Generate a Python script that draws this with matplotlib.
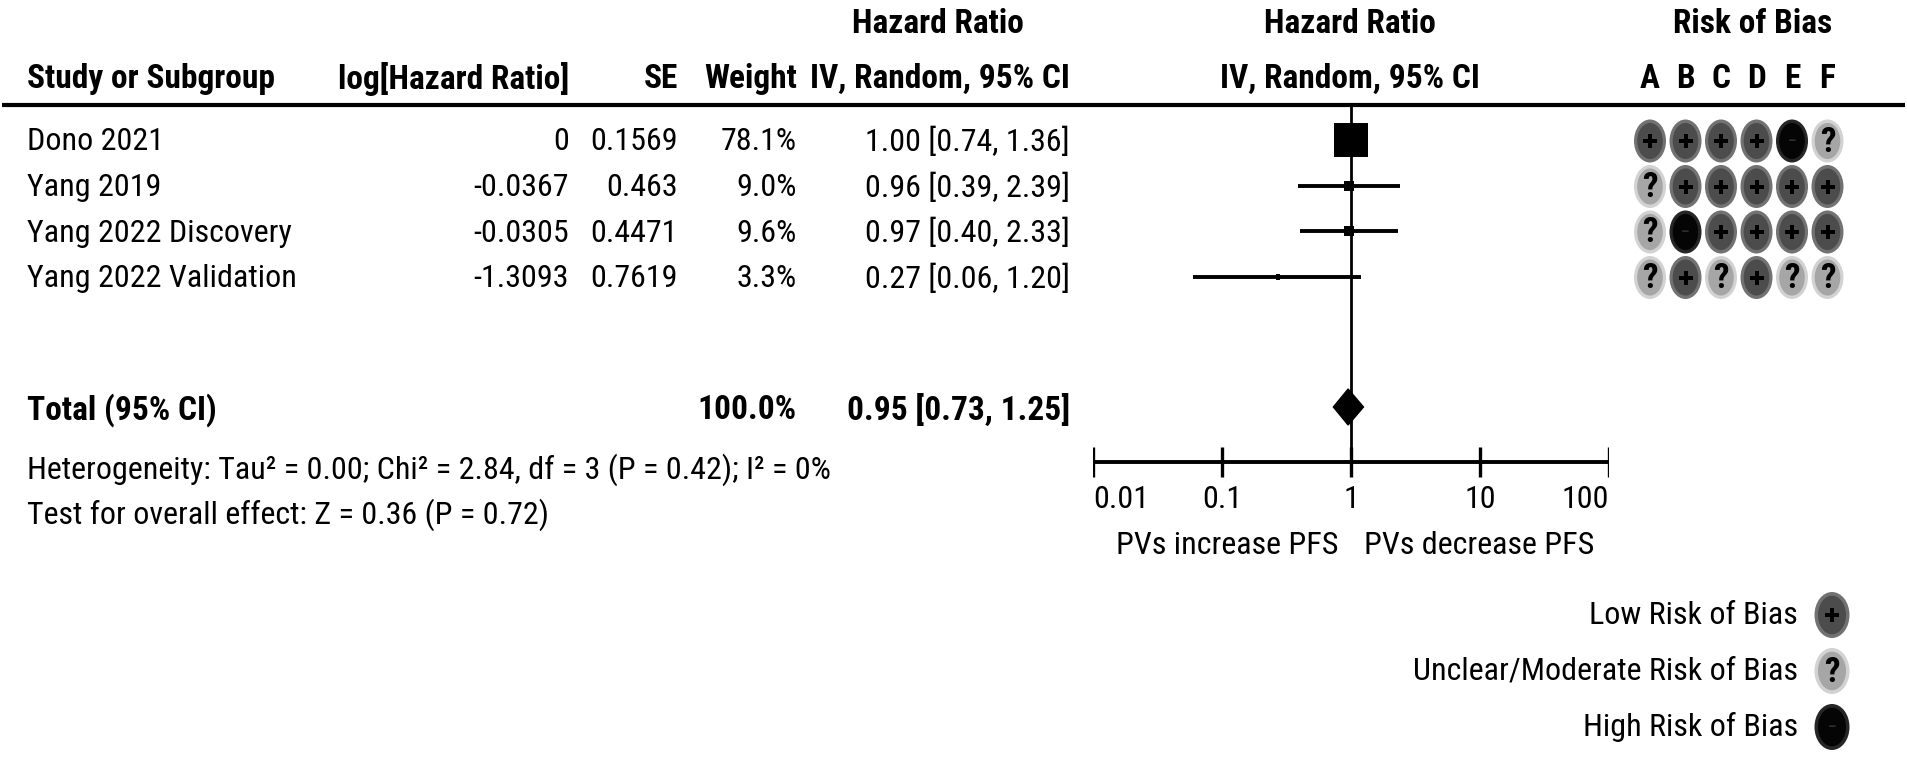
import numpy as np
import matplotlib
matplotlib.use("Agg")
import matplotlib.pyplot as plt
from matplotlib.patches import Ellipse, Polygon

# ---- data ----
studies = ["Dono 2021", "Yang 2019", "Yang 2022 Discovery", "Yang 2022 Validation"]
log_hr = [0, -0.0367, -0.0305, -1.3093]
se = [0.1569, 0.463, 0.4471, 0.7619]
weights = [78.1, 9.0, 9.6, 3.3]
hr = [1.00, 0.96, 0.97, 0.27]
ci_lo = [0.74, 0.39, 0.40, 0.06]
ci_hi = [1.36, 2.39, 2.33, 1.20]

total_weight = 100.0
total_hr, total_lo, total_hi = 0.95, 0.73, 1.25
heterogeneity = "Heterogeneity: Tau² = 0.00; Chi² = 2.84, df = 3 (P = 0.42); I² = 0%"
overall = "Test for overall effect: Z = 0.36 (P = 0.72)"

ticks = [0.01, 0.1, 1, 10, 100]
tick_labels = ["0.01", "0.1", "1", "10", "100"]
left_label = "PVs increase PFS"
right_label = "PVs decrease PFS"

bias_domains = ["A", "B", "C", "D", "E", "F"]
bias = [
    ["+", "+", "+", "+", "-", "?"],
    ["?", "+", "+", "+", "+", "+"],
    ["?", "-", "+", "+", "+", "+"],
    ["?", "+", "?", "+", "?", "?"],
]
legend_items = [("+", "Low Risk of Bias"),
                ("?", "Unclear/Moderate Risk of Bias"),
                ("-", "High Risk of Bias")]

# ---- layout (pixel units of a 1907x767 canvas) ----
W, H = 1907, 767
FONT = ["Roboto Condensed", "Liberation Sans", "DejaVu Sans"]
FS = 23        # body text
FS_HEAD = 24   # bold headers
ROW0, ROW_STEP = 142, 45.5
TOTAL_Y = 410
X_NAME, X_LOG, X_SE, X_W, X_CI = 27, 569, 678, 797, 1070
FOREST_L, FOREST_R = 1093, 1609
AXIS_Y = 462
LINE_Y = 105
ROB_X0, ROB_DX = 1650, 35.5

# circle style per judgement: (outer, inner, symbol colour)
ROB_STYLE = {"+": ("#727272", "#4c4c4c", "black"),
             "?": ("#d2d2d2", "#a6a6a6", "black"),
             "-": ("#262626", "#050505", "#2e2e2e")}

fig = plt.figure(figsize=(W / 100, H / 100), dpi=100)
ax = fig.add_axes([0, 0, 1, 1])
ax.set_xlim(0, W)
ax.set_ylim(H, 0)
ax.axis("off")


def txt(x, y, s, ha="left", bold=False):
    ax.text(x, y, s, ha=ha, va="center", fontsize=FS_HEAD if bold else FS, family=FONT,
            fontweight="bold" if bold else "normal", color="black")


def rob_circle(x, y, kind, w=32, h=43):
    outer, inner, sym_col = ROB_STYLE[kind]
    ax.add_patch(Ellipse((x, y), w, h, facecolor=outer, edgecolor="none"))
    ax.add_patch(Ellipse((x, y), w * 0.8, h * 0.84, facecolor=inner, edgecolor="none"))
    if kind == "+":
        ax.plot([x], [y], marker="P", markersize=10, color=sym_col, markeredgewidth=0)
    elif kind == "?":
        ax.text(x, y + 1, "?", ha="center", va="center", fontsize=25,
                fontweight="bold", family=FONT, color=sym_col)
    else:
        ax.text(x, y, "–", ha="center", va="center", fontsize=11,
                fontweight="bold", family=FONT, color=sym_col)


# headers
txt(938, 24, "Hazard Ratio", ha="center", bold=True)
txt(1350, 24, "Hazard Ratio", ha="center", bold=True)
txt(1753, 24, "Risk of Bias", ha="center", bold=True)
txt(X_NAME, 79, "Study or Subgroup", bold=True)
txt(X_LOG, 79, "log[Hazard Ratio]", ha="right", bold=True)
txt(X_SE, 79, "SE", ha="right", bold=True)
txt(X_W, 79, "Weight", ha="right", bold=True)
txt(X_CI, 79, "IV, Random, 95% CI", ha="right", bold=True)
txt(1350, 79, "IV, Random, 95% CI", ha="center", bold=True)
for i, d in enumerate(bias_domains):
    txt(ROB_X0 + i * ROB_DX, 79, d, ha="center", bold=True)
ax.plot([2, 1905], [LINE_Y, LINE_Y], color="black", lw=3.0, solid_capstyle="butt")

# study rows
for i, name in enumerate(studies):
    y = ROW0 + i * ROW_STEP
    txt(X_NAME, y, name)
    txt(X_LOG, y, f"{log_hr[i]:g}", ha="right")
    txt(X_SE, y, f"{se[i]:g}", ha="right")
    txt(X_W, y, f"{weights[i]:.1f}%", ha="right")
    txt(X_CI, y, f"{hr[i]:.2f} [{ci_lo[i]:.2f}, {ci_hi[i]:.2f}]", ha="right")
    for j, k in enumerate(bias[i]):
        rob_circle(ROB_X0 + j * ROB_DX, y - 1, k)

# total + footnotes
txt(X_NAME, TOTAL_Y, "Total (95% CI)", bold=True)
txt(X_W, TOTAL_Y, f"{total_weight:.1f}%", ha="right", bold=True)
txt(X_CI, TOTAL_Y, f"{total_hr:.2f} [{total_lo:.2f}, {total_hi:.2f}]", ha="right", bold=True)
txt(X_NAME, 470, heterogeneity)
txt(X_NAME, 515, overall)

# legend
for i, (k, label) in enumerate(legend_items):
    y = 615 + i * 56
    txt(1798, y, label, ha="right")
    rob_circle(1832, y, k, w=35, h=46)

# ---- forest plot on a log axis ----
fa = fig.add_axes([FOREST_L / W, 0, (FOREST_R - FOREST_L) / W, 1])
fa.set_xscale("log")
fa.set_xlim(ticks[0], ticks[-1])
fa.set_ylim(H, 0)
fa.axis("off")

fa.plot([1, 1], [LINE_Y, AXIS_Y], color="black", lw=2.0)
ref_size = 24.5
square = [(-0.97, -1), (0.97, -1), (0.97, 1), (-0.97, 1), (-0.97, -1)]
for i in range(len(studies)):
    y = ROW0 + i * ROW_STEP - 2
    fa.plot([ci_lo[i], ci_hi[i]], [y, y], color="black", lw=2.8, solid_capstyle="butt")
    ms = ref_size * (weights[i] / max(weights)) ** 0.6
    fa.plot([hr[i]], [y], marker=square, markersize=ms, color="black", markeredgewidth=0)

fa.add_patch(Polygon([(total_lo, TOTAL_Y - 3), (total_hr, TOTAL_Y - 21),
                      (total_hi, TOTAL_Y - 3), (total_hr, TOTAL_Y + 15)],
                     closed=True, facecolor="black", edgecolor="black"))

fa.plot([ticks[0], ticks[-1]], [AXIS_Y, AXIS_Y], color="black", lw=2.8, solid_capstyle="butt")
for t, lab in zip(ticks, tick_labels):
    fa.plot([t, t], [AXIS_Y - 15, AXIS_Y + 15], color="black", lw=2.4, solid_capstyle="butt")
    ha = "left" if t == ticks[0] else ("right" if t == ticks[-1] else "center")
    fa.text(t, 499, lab, ha=ha, va="center", fontsize=FS, family=FONT)
fa.text(0.80, 546, left_label, ha="right", va="center", fontsize=FS, family=FONT)
fa.text(1.25, 546, right_label, ha="left", va="center", fontsize=FS, family=FONT)

fig.savefig("out.png", dpi=100, facecolor="white")
